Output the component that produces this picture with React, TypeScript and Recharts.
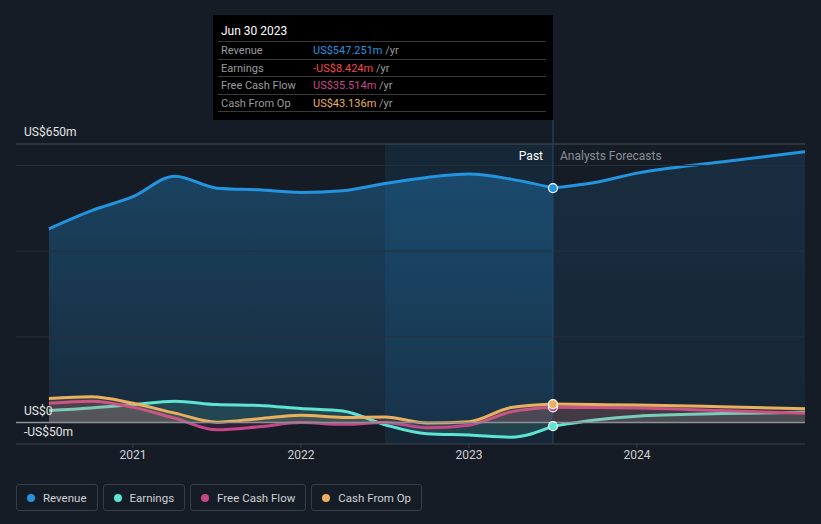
import React from "react"
import {
  Area,
  ComposedChart,
  ReferenceArea,
  ReferenceDot,
  ReferenceLine,
  XAxis,
  YAxis,
} from "recharts"

// quarterly trailing-12-month figures, US$m
const pastPeriods = [2020.5, 2020.75, 2021, 2021.25, 2021.5, 2021.75, 2022, 2022.25, 2022.5, 2022.75, 2023, 2023.25, 2023.5]
const revenuePast = [452, 494, 527, 575, 547, 543, 537, 541, 558, 572, 580, 568, 547.251]
const earningsPast = [28, 34, 42, 50, 42, 40, 33, 27, -5, -26, -29, -34, -8.424]
const fcfPast = [45, 50, 36, 10, -17, -10, 0, -4, 0, -12, -6, 25, 35.514]
const cfoPast = [56, 60, 45, 22, 1, 9, 17, 12, 13, -1, 2, 35, 43.136]

// analysts forecasts
const forecastPeriods = [2023.5, 2023.75, 2024, 2024.5, 2025]
const revenueForecast = [547.251, 560, 582, 608, 632]
const earningsForecast = [-8.424, 6, 15, 21, 24]
const fcfForecast = [35.514, 35, 34, 28, 22]
const cfoForecast = [43.136, 42, 41, 37, 32]

const xTicks = [2021, 2022, 2023, 2024]
const yLabelValues = [-50, 0, 650]
const gridValues = [200, 400, 600]
const tooltipDate = "Jun 30 2023"
const tooltipPeriod = 2023.5
const highlightStart = 2022.5

const toPoints = (ts: number[], vs: number[]) => ts.map((t, i) => ({ t, v: vs[i] }))

const series = [
  { name: "Revenue", color: "#2394df", past: revenuePast, forecast: revenueForecast },
  { name: "Earnings", color: "#5fe3d2", past: earningsPast, forecast: earningsForecast },
  { name: "Free Cash Flow", color: "#c4478a", past: fcfPast, forecast: fcfForecast },
  { name: "Cash From Op", color: "#ebb05f", past: cfoPast, forecast: cfoForecast },
]

const fmt = (v: number) => (v < 0 ? `-US$${Math.abs(v).toFixed(3)}m` : `US$${v.toFixed(3)}m`)
const fmtAxis = (v: number) => (v < 0 ? `-US$${Math.abs(v)}m` : v === 0 ? "US$0" : `US$${v}m`)

const YLabel = (props: any) => {
  const { viewBox, text } = props
  if (!viewBox) return null
  return (
    <text x={viewBox.x + 8} y={viewBox.y - 8} fill="#e6e6e6" fontSize={12} textAnchor="start">
      {text}
    </text>
  )
}

export default function App() {
  const last = pastPeriods.length - 1
  const lineColor = (v: number) => (v === 0 ? "#8d9197" : v === 650 ? "#474d57" : "transparent")
  return (
    <div
      style={{
        position: "absolute",
        left: 0,
        top: 0,
        width: 821,
        height: 524,
        background: "#161c25",
        fontFamily: "Roboto, sans-serif",
        overflow: "hidden",
      }}
    >
      <ComposedChart width={821} height={524} margin={{ top: 144, right: 16, bottom: 50, left: 16 }}>
        <defs>
          <linearGradient id="revPast" x1="0" y1="0" x2="0" y2="1">
            <stop offset="0%" stopColor="#2394df" stopOpacity={0.32} />
            <stop offset="100%" stopColor="#2394df" stopOpacity={0.12} />
          </linearGradient>
          <linearGradient id="revFc" x1="0" y1="0" x2="0" y2="1">
            <stop offset="0%" stopColor="#2394df" stopOpacity={0.14} />
            <stop offset="100%" stopColor="#2394df" stopOpacity={0.08} />
          </linearGradient>
        </defs>
        <ReferenceArea x1={highlightStart} x2={tooltipPeriod} y1={-50} y2={650} fill="#1e6aa8" fillOpacity={0.14} stroke="none" />
        {gridValues.map((g) => (
          <ReferenceLine key={g} y={g} stroke="#26303c" strokeWidth={1} />
        ))}
        <XAxis
          type="number"
          dataKey="t"
          domain={[2020.304, 2025]}
          allowDataOverflow
          ticks={xTicks}
          interval={0}
          height={30}
          tickSize={4}
          axisLine={{ stroke: "#3b424d" }}
          tickLine={{ stroke: "#3b424d" }}
          tick={{ fill: "#cfd2d6", fontSize: 12 }}
        />
        <YAxis type="number" domain={[-50, 650]} allowDataOverflow width={0} hide />

        {series.map((s, i) => (
          <Area
            key={s.name + "f"}
            data={toPoints(forecastPeriods, s.forecast)}
            dataKey="v"
            type="monotone"
            baseValue={0}
            stroke={s.color}
            strokeWidth={3}
            fill={i === 0 ? "url(#revFc)" : s.color}
            fillOpacity={i === 0 ? 1 : 0.12}
            dot={false}
            activeDot={false}
            isAnimationActive={false}
          />
        ))}
        {series.map((s, i) => (
          <Area
            key={s.name + "p"}
            data={toPoints(pastPeriods, s.past)}
            dataKey="v"
            type="monotone"
            baseValue={0}
            stroke={s.color}
            strokeWidth={3}
            fill={i === 0 ? "url(#revPast)" : s.color}
            fillOpacity={i === 0 ? 1 : 0.15}
            dot={false}
            activeDot={false}
            isAnimationActive={false}
          />
        ))}
        {yLabelValues.map((v) => (
          <ReferenceLine
            key={"y" + v}
            y={v}
            stroke={lineColor(v)}
            strokeWidth={v === 0 ? 1.5 : 1}
            label={<YLabel text={fmtAxis(v)} />}
          />
        ))}
        <ReferenceLine
          segment={[
            { x: tooltipPeriod, y: -50 },
            { x: tooltipPeriod, y: 706 },
          ]}
          ifOverflow="visible"
          stroke="#1f4d72"
          strokeWidth={1}
        />
        {[0, 1, 2, 3].map((i) => (
          <ReferenceDot
            key={i}
            x={tooltipPeriod}
            y={series[i].past[last]}
            r={4.5}
            fill={series[i].color}
            stroke="#ffffff"
            strokeWidth={1.2}
            ifOverflow="visible"
          />
        ))}
      </ComposedChart>

      <div style={{ position: "absolute", left: 400, width: 143, top: 149, textAlign: "right", color: "#ffffff", fontSize: 12 }}>
        Past
      </div>
      <div style={{ position: "absolute", left: 560, top: 149, color: "#8b9097", fontSize: 12 }}>Analysts Forecasts</div>

      <div style={{ position: "absolute", left: 213, top: 15, width: 340, height: 105, background: "#000000" }}>
        <div style={{ position: "absolute", left: 8, top: 9, color: "#ffffff", fontSize: 12, lineHeight: "14px" }}>
          {tooltipDate}
        </div>
        {series.map((s, i) => {
          const v = s.past[last]
          return (
            <div
              key={s.name}
              style={{
                position: "absolute",
                left: 5,
                width: 328,
                top: 26 + i * 17.5,
                height: 17.5,
                borderTop: "1px solid #3a3a3a",
                fontSize: 11,
                lineHeight: "17px",
              }}
            >
              <span style={{ position: "absolute", left: 3, color: "#9b9b9b" }}>{s.name}</span>
              <span style={{ position: "absolute", left: 95, color: i === 1 && v < 0 ? "#f0474b" : s.color, whiteSpace: "nowrap" }}>
                {fmt(v)} <span style={{ color: "#9b9b9b" }}>/yr</span>
              </span>
            </div>
          )
        })}
        <div style={{ position: "absolute", left: 5, width: 328, top: 96, borderTop: "1px solid #3a3a3a" }} />
      </div>

      <div style={{ position: "absolute", left: 16, top: 484, display: "flex", gap: 5 }}>
        {series.map((s) => (
          <div
            key={s.name}
            style={{
              height: 25,
              border: "1px solid #363d48",
              borderRadius: 3,
              display: "flex",
              alignItems: "center",
              padding: "0 10px",
              color: "#cfd2d6",
              fontSize: 11.5,
            }}
          >
            <span style={{ width: 8, height: 8, borderRadius: "50%", background: s.color, marginRight: 8 }} />
            {s.name}
          </div>
        ))}
      </div>
    </div>
  )
}
